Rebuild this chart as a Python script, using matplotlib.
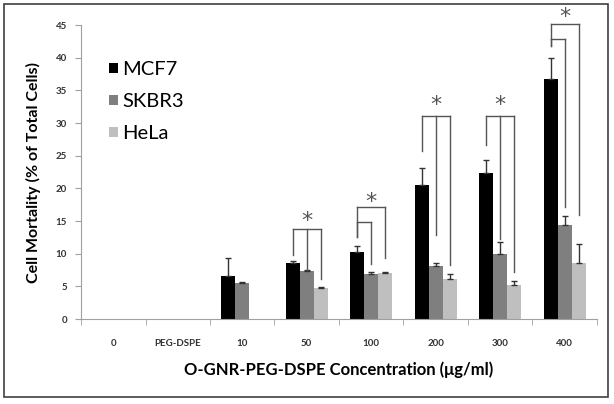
import matplotlib
matplotlib.use("Agg")
import matplotlib.pyplot as plt
import numpy as np
from matplotlib.patches import Patch, Rectangle

plt.rcParams['font.family'] = ['Lato', 'DejaVu Sans']

# data
categories = ['0', 'PEG-DSPE', '10', '50', '100', '200', '300', '400']
cell_lines = ['MCF7', 'SKBR3', 'HeLa']
mcf7 = [0, 0, 6.6, 8.6, 10.2, 20.5, 22.4, 36.7]
skbr3 = [0, 0, 5.6, 7.4, 6.85, 8.2, 9.9, 14.4]
hela = [0, 0, 0, 4.75, 7.1, 6.2, 5.3, 8.6]
mcf7_err = [0, 0, 2.8, 0.25, 1.0, 2.6, 1.9, 3.3]
skbr3_err = [0, 0, 0.05, 0.05, 0.3, 0.35, 1.9, 1.35]
hela_err = [0, 0, 0, 0.1, 0.1, 0.65, 0.6, 2.9]
colors = ['#000000', '#7f7f7f', '#bfbfbf']

# significance brackets: (group index, top y, [(bar index, leg bottom y), ...], star y)
brackets = [
    (3, 13.8, [(0, 9.8), (1, 7.5), (2, 6.1)], 15.0),
    (4, 14.9, [(0, 12.6), (1, 8.5)], None),
    (4, 17.1, [(0, 12.6), (2, 9.35)], 17.9),
    (5, 31.1, [(0, 25.7), (1, 12.9), (2, 8.3)], 32.7),
    (6, 31.1, [(0, 26.7), (1, 12.3), (2, 7.25)], 32.7),
    (7, 42.9, [(0, 41.8), (1, 17.2)], None),
    (7, 45.1, [(0, 41.8), (2, 16.0)], 46.3),
]

fig = plt.figure(figsize=(6.14, 4.04), dpi=100)
ax = fig.add_axes([0.132, 0.21, 0.84, 0.728])

x = np.arange(len(categories))
w = 0.217
series = [(mcf7, mcf7_err), (skbr3, skbr3_err), (hela, hela_err)]
for i, (vals, err) in enumerate(series):
    vals = np.array(vals, dtype=float)
    err = np.array(err, dtype=float)
    show = vals > 0
    ax.bar(x[show] + (i - 1) * w, vals[show], width=w, color=colors[i],
           edgecolor='none', label=cell_lines[i],
           yerr=[np.zeros(show.sum()), err[show]],
           error_kw=dict(ecolor='#333333', elinewidth=1, capsize=2.5, capthick=1))

for g, top, legs, star in brackets:
    xs = [x[g] + (b - 1) * w for b, _ in legs]
    ax.plot([min(xs), max(xs)], [top, top], color='#555555', lw=1, clip_on=False)
    for xx, (_, bot) in zip(xs, legs):
        ax.plot([xx, xx], [bot, top], color='#555555', lw=1, clip_on=False)
    if star is not None:
        ax.text(np.mean([min(xs), max(xs)]), star, '*', ha='center', va='center',
                fontsize=16, color='#555555', clip_on=False, family='DejaVu Sans')

ax.set_xlim(-0.5, len(categories) - 0.5)
ax.set_ylim(0, 45)
ax.set_yticks(np.arange(0, 46, 5))
ax.set_xticks(x)
ax.set_xticklabels(categories, fontsize=7, fontweight='bold', color='#333333')
ax.set_xticks(np.arange(-0.5, len(categories), 1), minor=True)
ax.tick_params(axis='x', which='major', length=0, pad=14)
ax.tick_params(axis='x', which='minor', length=4, color='#a0a0a0', direction='out')
ax.tick_params(axis='y', length=4, color='#a0a0a0', labelsize=7, labelcolor='#333333', pad=6)
for lab in ax.get_yticklabels():
    lab.set_fontweight('bold')

for s in ['top', 'right']:
    ax.spines[s].set_visible(False)
for s in ['left', 'bottom']:
    ax.spines[s].set_color('#a0a0a0')

ax.set_ylabel('Cell Mortality (% of Total Cells)', fontsize=11.5, fontweight='bold', labelpad=11)
ax.set_xlabel('O-GNR-PEG-DSPE Concentration (\u03bcg/ml)', fontsize=12, fontweight='bold', labelpad=10)

handles = [Patch(facecolor=c, edgecolor='none') for c in colors]
ax.legend(handles, cell_lines, loc='upper left', bbox_to_anchor=(0.02, 0.94), frameon=False,
          fontsize=14.5, handlelength=0.4, handleheight=0.4, handletextpad=0.25, labelspacing=0.75)

fig.patches.append(Rectangle((0.0065, 0.0173), 0.9837, 0.9728, transform=fig.transFigure,
                             fill=False, edgecolor='#404040', lw=1.2))

fig.savefig('out.png', dpi=100)
